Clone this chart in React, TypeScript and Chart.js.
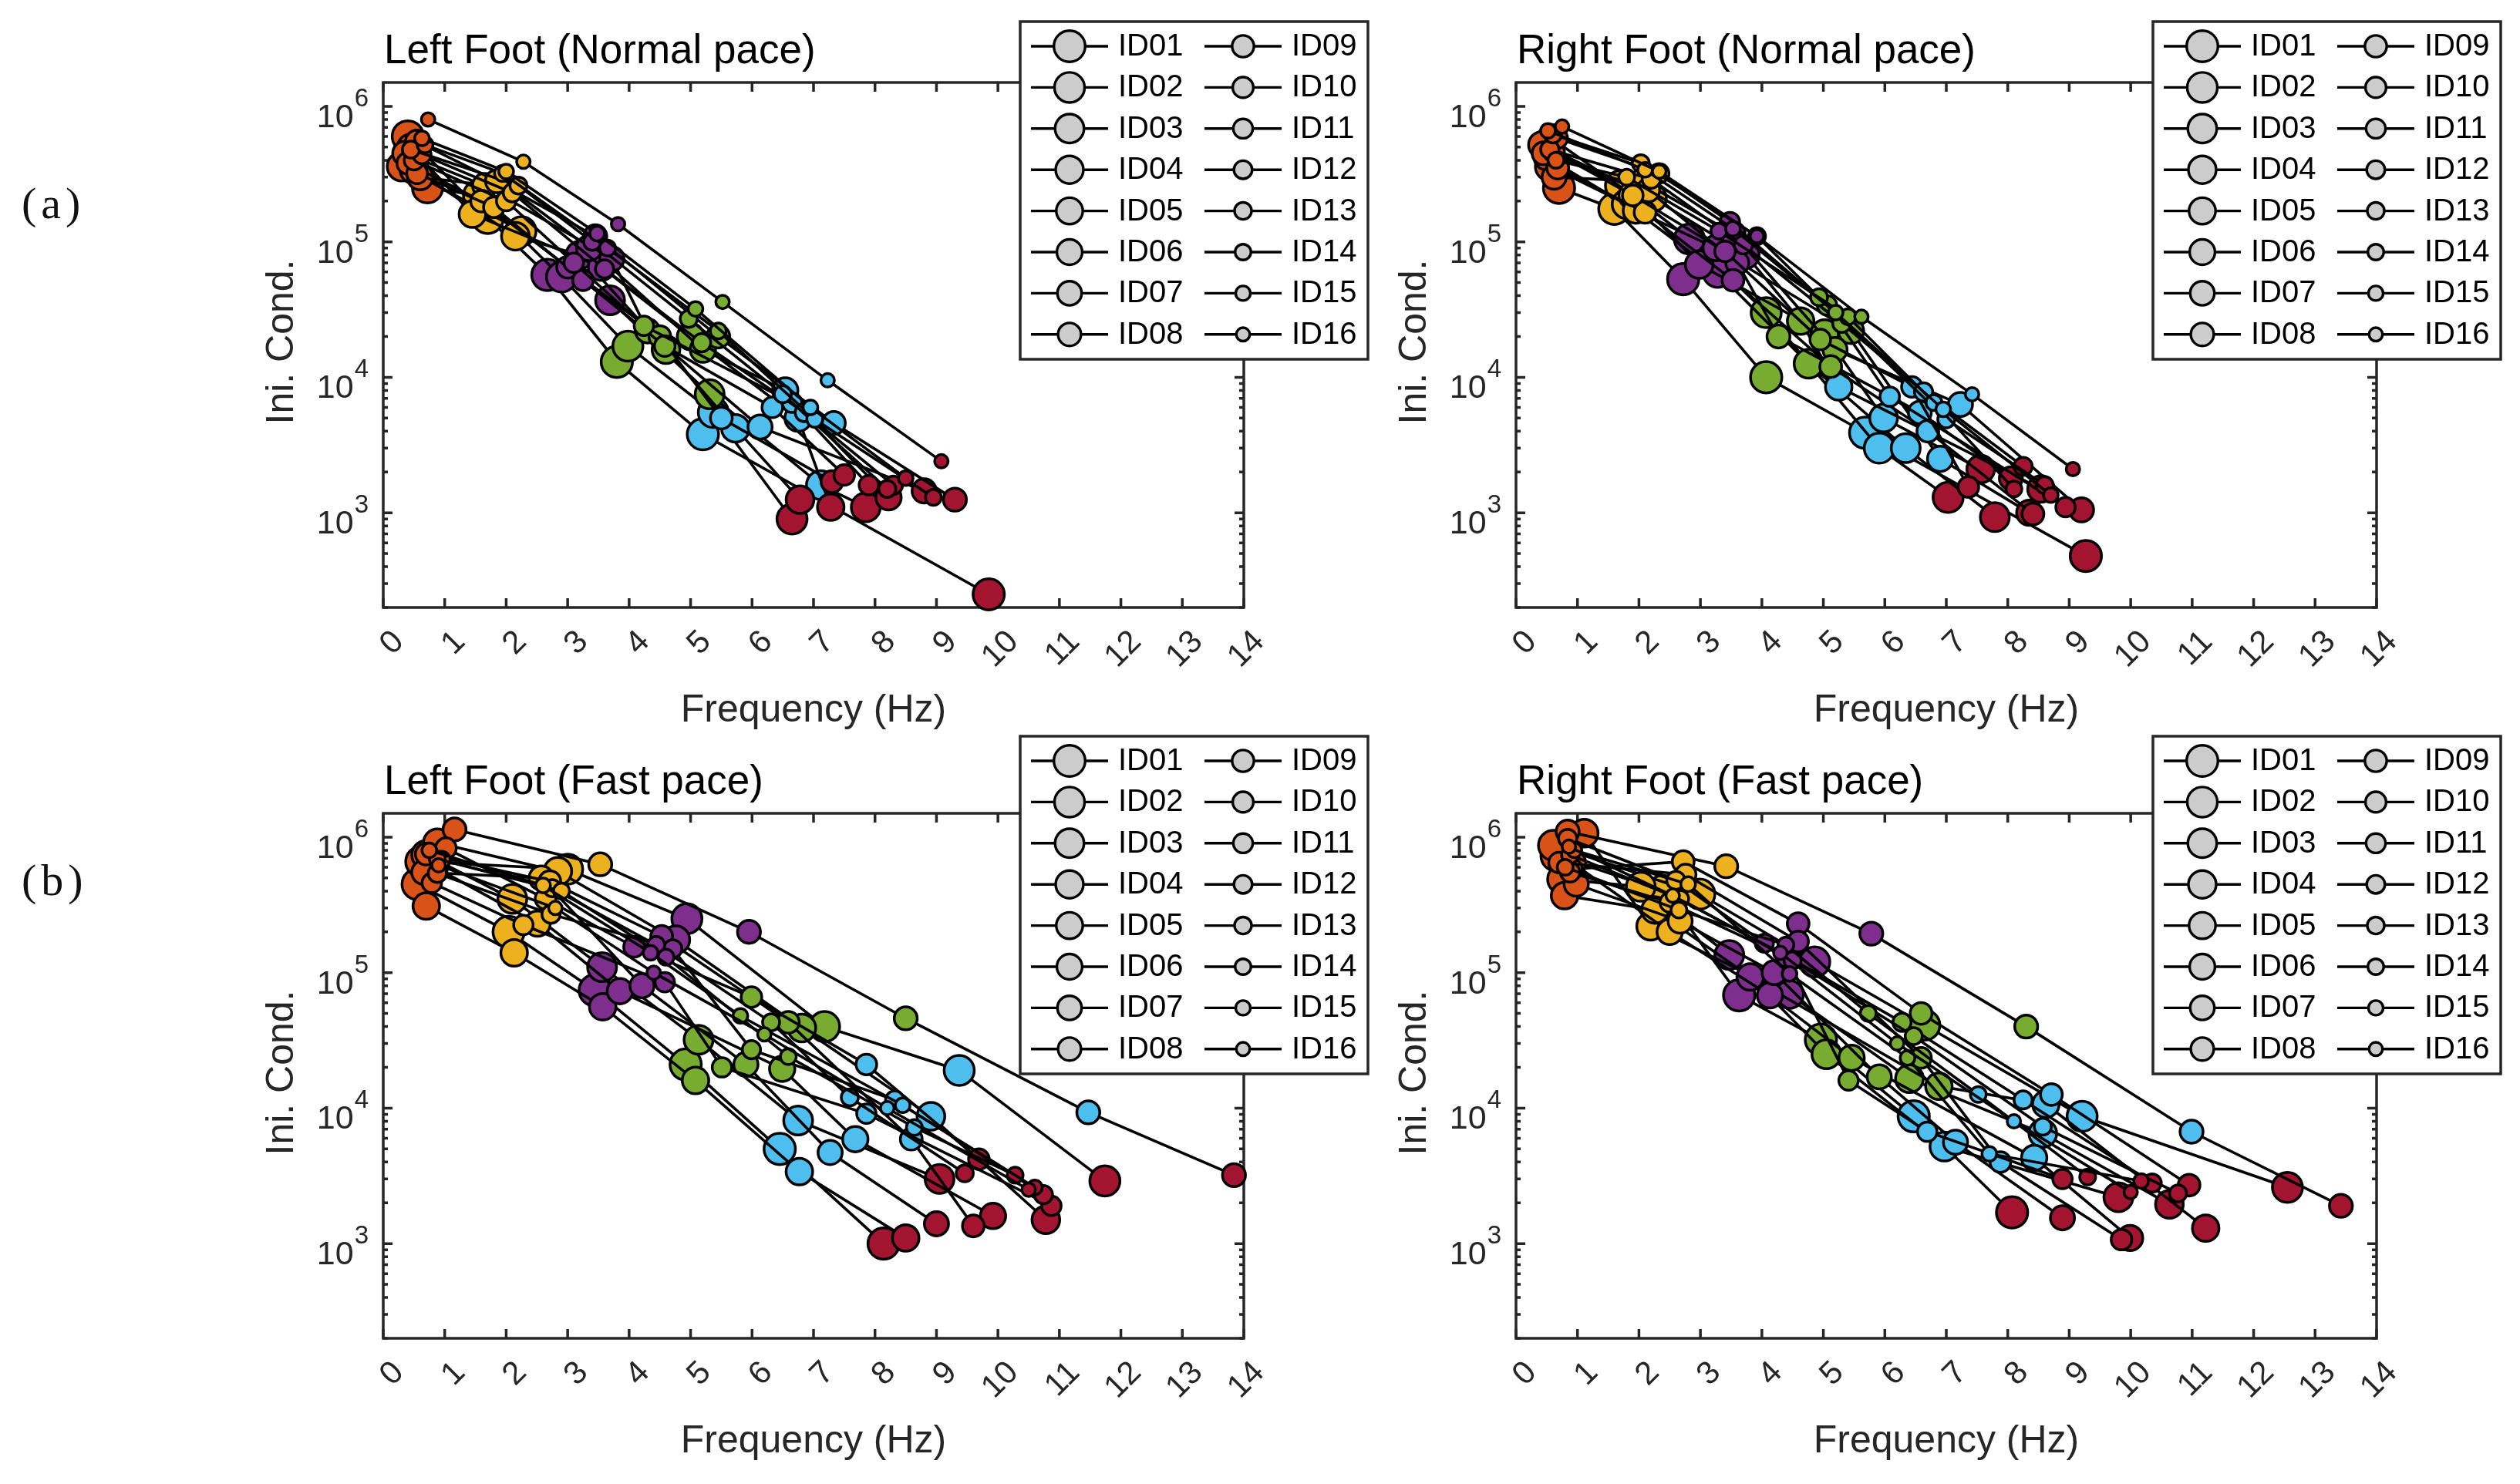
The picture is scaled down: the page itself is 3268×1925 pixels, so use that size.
import { useEffect, useRef } from 'react';
import { Chart, registerables } from 'chart.js';

Chart.register(...registerables);

// ---- data ----
const ids = ['ID01', 'ID02', 'ID03', 'ID04', 'ID05', 'ID06', 'ID07', 'ID08',
  'ID09', 'ID10', 'ID11', 'ID12', 'ID13', 'ID14', 'ID15', 'ID16'];

// colour of the 1st..6th point of every subject
const modeColors = ['#D95319', '#EDB120', '#7E2F8E', '#77AC30', '#4DBEEE', '#A2142F'];

const freqTicks = [0, 1, 2, 3, 4, 5, 6, 7, 8, 9, 10, 11, 12, 13, 14];
const decadeTicks = [1e3, 1e4, 1e5, 1e6];
const minorTicks = [
  200, 300, 400, 500, 600, 700, 800, 900,
  2e3, 3e3, 4e3, 5e3, 6e3, 7e3, 8e3, 9e3,
  2e4, 3e4, 4e4, 5e4, 6e4, 7e4, 8e4, 9e4,
  2e5, 3e5, 4e5, 5e5, 6e5, 7e5, 8e5, 9e5,
];

// Left foot, normal pace
const leftNormalHz = [
  [0.40, 1.70, 2.67, 3.80, 5.20, 9.85],
  [0.72, 1.55, 2.90, 3.98, 5.37, 6.65],
  [0.30, 2.25, 3.69, 5.31, 7.12, 7.85],
  [0.50, 2.15, 3.20, 4.60, 5.73, 6.78],
  [0.45, 1.45, 3.55, 5.00, 6.75, 7.28],
  [0.60, 2.05, 3.35, 5.20, 6.54, 8.22],
  [0.35, 1.65, 3.72, 4.30, 6.13, 8.80],
  [0.55, 1.85, 3.45, 5.45, 7.33, 9.30],
  [0.40, 1.60, 3.00, 4.50, 5.50, 7.30],
  [0.55, 1.80, 3.25, 4.58, 6.33, 7.50],
  [0.50, 2.00, 3.10, 4.24, 6.65, 7.90],
  [0.63, 2.10, 3.60, 5.18, 6.85, 8.30],
  [0.45, 2.20, 3.40, 4.97, 6.50, 8.20],
  [0.68, 1.94, 3.65, 5.45, 7.02, 8.95],
  [0.63, 2.00, 3.48, 5.08, 6.95, 8.50],
  [0.73, 2.28, 3.82, 5.52, 7.23, 9.08],
];
const leftNormalIC = [
  [6.0e5, 1.5e5, 5.7e4, 1.3e4, 3.8e3, 250],
  [2.5e5, 2.2e5, 5.5e4, 1.7e4, 5.5e3, 900],
  [3.6e5, 1.2e5, 3.7e4, 7.5e3, 1.6e3, 1.1e3],
  [3.4e5, 1.1e5, 8.0e4, 1.6e4, 4.2e3, 1.25e3],
  [5.0e5, 1.6e5, 6.5e4, 2.0e4, 5.0e3, 1.1e3],
  [3.0e5, 2.5e5, 9.0e4, 1.6e4, 8.0e3, 1.3e3],
  [4.5e5, 2.6e5, 7.5e4, 2.2e4, 4.3e3, 1.45e3],
  [5.5e5, 2.8e5, 1.1e5, 2.0e4, 4.6e3, 1.25e3],
  [3.8e5, 2.0e5, 6.5e4, 2.0e4, 5.0e3, 1.7e3],
  [3.2e5, 1.8e5, 5.2e4, 1.7e4, 6.0e3, 1.9e3],
  [4.0e5, 2.0e5, 7.0e4, 2.4e4, 6.5e3, 1.6e3],
  [4.4e5, 2.3e5, 6.3e4, 1.8e4, 5.5e3, 1.6e3],
  [4.8e5, 2.6e5, 1.0e5, 2.7e4, 7.5e3, 1.5e3],
  [5.2e5, 3.2e5, 9.0e4, 2.2e4, 4.9e3, 1.3e3],
  [5.8e5, 3.3e5, 1.15e5, 3.2e4, 6.0e3, 1.8e3],
  [8.0e5, 3.9e5, 1.35e5, 3.6e4, 9.5e3, 2.4e3],
];

// Right foot, normal pace
const rightNormalHz = [
  [0.70, 1.60, 2.72, 4.07, 5.68, 9.27],
  [0.48, 1.70, 2.82, 4.07, 5.91, 7.03],
  [0.55, 1.80, 3.28, 4.76, 6.34, 7.79],
  [0.58, 1.90, 2.98, 5.02, 5.98, 7.56],
  [0.42, 2.23, 3.74, 4.63, 5.25, 8.54],
  [0.50, 1.95, 3.25, 5.45, 6.90, 8.35],
  [0.62, 2.05, 3.53, 5.19, 7.23, 9.20],
  [0.45, 2.15, 3.60, 4.27, 6.57, 8.05],
  [0.68, 2.10, 3.53, 5.12, 6.70, 8.41],
  [0.62, 1.90, 3.40, 4.95, 6.44, 7.36],
  [0.68, 2.33, 3.48, 5.06, 6.08, 8.94],
  [0.55, 2.20, 3.70, 5.30, 6.63, 8.25],
  [0.60, 2.03, 3.92, 4.93, 7.00, 8.60],
  [0.65, 1.80, 3.30, 5.40, 6.80, 8.10],
  [0.52, 2.10, 3.53, 5.20, 6.95, 8.70],
  [0.75, 2.33, 3.92, 5.62, 7.42, 9.06],
];
const rightNormalIC = [
  [2.5e5, 1.75e5, 5.3e4, 1.0e4, 3.9e3, 480],
  [5.0e5, 2.6e5, 1.05e5, 3.0e4, 3.0e3, 1.3e3],
  [3.6e5, 1.9e5, 5.9e4, 1.26e4, 3.0e3, 930],
  [5.8e5, 2.2e5, 6.8e4, 2.1e4, 5.0e3, 2.1e3],
  [5.2e5, 2.1e5, 8.0e4, 2.6e4, 8.5e3, 1.5e3],
  [4.2e5, 1.7e5, 9.0e4, 2.2e4, 2.5e3, 1.0e3],
  [3.0e5, 2.8e5, 1.15e5, 1.6e4, 6.3e3, 1.05e3],
  [4.5e5, 2.4e5, 7.0e4, 2.0e4, 5.5e3, 1.8e3],
  [3.5e5, 1.65e5, 5.2e4, 1.2e4, 4.0e3, 980],
  [4.6e5, 2.2e5, 8.5e4, 1.9e4, 8.5e3, 1.55e3],
  [5.8e5, 3.2e5, 1.4e5, 3.4e4, 7.2e3, 1.1e3],
  [4.8e5, 2.9e5, 9.5e4, 2.5e4, 7.8e3, 2.2e3],
  [6.2e5, 3.8e5, 1.1e5, 3.9e4, 4.9e3, 1.6e3],
  [4.0e5, 3.0e5, 1.2e5, 2.8e4, 6.5e3, 1.5e3],
  [6.6e5, 3.4e5, 1.25e5, 3.0e4, 5.8e3, 1.35e3],
  [7.1e5, 3.3e5, 1.1e5, 2.8e4, 7.5e3, 2.1e3],
];

// Left foot, fast pace
const leftFastHz = [
  [0.56, 2.04, 3.44, 4.92, 6.45, 8.14],
  [0.61, 3.00, 4.94, 7.18, 9.37, 11.74],
  [0.70, 2.10, 3.56, 5.13, 6.75, 9.05],
  [0.88, 2.84, 4.76, 6.81, 8.91, 10.78],
  [0.70, 2.13, 3.57, 5.08, 6.77, 8.50],
  [0.84, 2.51, 3.85, 6.49, 7.68, 9.92],
  [0.66, 2.57, 4.21, 5.90, 7.27, 9.00],
  [1.16, 3.53, 5.95, 8.50, 11.47, 13.84],
  [0.70, 2.71, 4.53, 6.59, 8.59, 9.60],
  [1.02, 2.64, 4.08, 5.99, 7.86, 9.69],
  [0.79, 2.28, 4.58, 5.51, 7.86, 10.87],
  [0.88, 2.73, 4.71, 5.99, 8.32, 10.74],
  [0.95, 2.75, 4.44, 6.31, 7.59, 9.46],
  [0.88, 2.90, 4.60, 6.59, 8.64, 10.28],
  [0.75, 2.60, 4.35, 5.81, 8.45, 10.60],
  [0.90, 2.80, 4.40, 6.20, 8.20, 10.50],
];
const leftFastIC = [
  [4.5e5, 2.0e5, 7.4e4, 2.1e4, 5.0e3, 1.0e3],
  [6.6e5, 5.8e5, 2.5e5, 4.0e4, 1.9e4, 2.9e3],
  [7.4e5, 3.5e5, 1.1e5, 3.2e4, 8.1e3, 3.0e3],
  [9.1e5, 5.6e5, 1.75e5, 3.9e4, 8.7e3, 1.5e3],
  [3.1e5, 1.4e5, 5.6e4, 1.6e4, 3.4e3, 1.1e3],
  [6.0e5, 2.3e5, 7.3e4, 1.95e4, 5.9e3, 1.6e3],
  [5.5e5, 5.0e5, 8.0e4, 2.1e4, 4.7e3, 1.4e3],
  [1.14e6, 6.3e5, 2.0e5, 4.6e4, 9.3e3, 3.2e3],
  [7.5e5, 4.7e5, 1.85e5, 4.3e4, 5.9e3, 1.35e3],
  [8.3e5, 3.5e5, 1.55e5, 6.6e4, 2.1e4, 4.2e3],
  [4.6e5, 2.25e5, 8.5e4, 2.0e4, 9.1e3, 1.9e3],
  [5.4e5, 2.7e5, 1.5e5, 2.7e4, 1.15e4, 2.3e3],
  [6.8e5, 4.2e5, 1.6e5, 4.3e4, 1.2e4, 3.3e3],
  [6.9e5, 4.0e5, 1.3e5, 2.4e4, 7.2e3, 3.2e3],
  [8.0e5, 4.4e5, 1.4e5, 4.8e4, 1.05e4, 2.6e3],
  [6.2e5, 3.0e5, 1.0e5, 3.5e4, 1.0e4, 2.5e3],
];

// Right foot, fast pace
const rightFastHz = [
  [0.66, 2.39, 3.63, 4.96, 6.47, 8.07],
  [0.61, 2.99, 4.86, 6.65, 9.21, 12.55],
  [0.75, 2.03, 3.47, 5.05, 6.97, 9.80],
  [1.11, 2.19, 4.45, 6.40, 8.57, 10.63],
  [0.79, 2.26, 3.81, 6.88, 8.62, 11.22],
  [0.93, 2.50, 4.13, 5.46, 8.43, 9.99],
  [0.98, 2.67, 4.20, 5.91, 7.15, 8.89],
  [0.84, 3.42, 5.78, 8.30, 10.99, 13.42],
  [0.90, 2.72, 4.59, 6.59, 8.71, 10.95],
  [0.70, 2.76, 4.59, 6.59, 7.88, 9.85],
  [0.88, 2.50, 4.40, 5.41, 6.69, 8.89],
  [0.84, 2.60, 4.04, 6.28, 8.25, 10.35],
  [0.88, 2.67, 4.50, 6.47, 8.57, 10.77],
  [0.80, 2.65, 4.39, 5.73, 7.52, 9.30],
  [0.95, 2.80, 4.45, 6.37, 7.70, 10.17],
  [0.86, 2.55, 4.30, 6.20, 8.10, 10.00],
];
const rightFastIC = [
  [7.3e5, 4.0e5, 6.8e4, 3.2e4, 8.7e3, 1.7e3],
  [8.7e5, 3.8e5, 1.2e5, 4.1e4, 8.7e3, 2.6e3],
  [4.9e5, 4.3e5, 1.35e5, 2.5e4, 5.2e3, 2.2e3],
  [1.07e6, 2.2e5, 6.9e4, 1.65e4, 6.5e3, 1.95e3],
  [3.7e5, 2.9e5, 9.3e4, 1.45e4, 1.07e4, 1.3e3],
  [6.4e5, 2.0e5, 6.8e4, 2.35e4, 4.3e3, 1.1e3],
  [4.5e5, 2.4e5, 1.0e5, 1.7e4, 5.6e3, 1.55e3],
  [1.1e6, 6.1e5, 1.94e5, 4.0e4, 6.7e3, 1.9e3],
  [5.8e5, 6.6e5, 2.3e5, 5.0e4, 1.26e4, 2.7e3],
  [6.5e5, 5.3e5, 1.7e5, 2.35e4, 4.0e3, 1.07e3],
  [5.5e5, 3.3e5, 1.3e5, 1.6e4, 6.7e3, 3.0e3],
  [9.8e5, 4.8e5, 1.65e5, 4.3e4, 1.15e4, 2.8e3],
  [7.4e5, 3.5e5, 1.23e5, 3.4e4, 7.3e3, 2.35e3],
  [6.0e5, 2.9e5, 1.6e5, 5.0e4, 1.26e4, 3.1e3],
  [8.0e5, 4.5e5, 9.8e4, 2.35e4, 4.6e3, 2.9e3],
  [8.5e5, 3.7e5, 1.4e5, 3.0e4, 8.0e3, 2.4e3],
];

// ---- look ----
const FONT = '"Liberation Sans", Arial, Helvetica, sans-serif';
const AXIS = '#262626';
const PLOT_W = 1116;
const PLOT_H = 681;
const PAD_L = 200;
const PAD_R = 180;
const PAD_T = 107;
const ROW_H = 948;
const markerRadius = (i: number) => 20.3 - 0.77 * i;

const panels = [
  { title: 'Left Foot (Normal pace)', hz: leftNormalHz, ic: leftNormalIC, left: 497, top: 0, legendTop: 28 },
  { title: 'Right Foot (Normal pace)', hz: rightNormalHz, ic: rightNormalIC, left: 1966, top: 0, legendTop: 28 },
  { title: 'Left Foot (Fast pace)', hz: leftFastHz, ic: leftFastIC, left: 497, top: ROW_H, legendTop: 7 },
  { title: 'Right Foot (Fast pace)', hz: rightFastHz, ic: rightFastIC, left: 1966, top: ROW_H, legendTop: 7 },
];

const matlabAxes = {
  id: 'matlabAxes',
  beforeDatasetsDraw(chart: any, _args: any, opts: any) {
    const { ctx, chartArea: a, scales } = chart;
    const x = scales.x;
    const y = scales.y;
    ctx.save();
    ctx.strokeStyle = AXIS;
    ctx.lineWidth = 3.5;
    ctx.beginPath();
    for (const f of freqTicks) {
      const px = x.getPixelForValue(f);
      ctx.moveTo(px, a.bottom);
      ctx.lineTo(px, a.bottom - 12);
      ctx.moveTo(px, a.top);
      ctx.lineTo(px, a.top + 12);
    }
    for (const v of decadeTicks) {
      const py = y.getPixelForValue(v);
      ctx.moveTo(a.left, py);
      ctx.lineTo(a.left + 12, py);
      ctx.moveTo(a.right, py);
      ctx.lineTo(a.right - 12, py);
    }
    for (const v of minorTicks) {
      const py = y.getPixelForValue(v);
      ctx.moveTo(a.left, py);
      ctx.lineTo(a.left + 6, py);
      ctx.moveTo(a.right, py);
      ctx.lineTo(a.right - 6, py);
    }
    ctx.stroke();
    ctx.strokeRect(a.left, a.top, a.right - a.left, a.bottom - a.top);

    // x tick labels, rotated
    ctx.fillStyle = AXIS;
    ctx.font = `42px ${FONT}`;
    ctx.textAlign = 'right';
    ctx.textBaseline = 'middle';
    for (const f of freqTicks) {
      ctx.save();
      ctx.translate(x.getPixelForValue(f) + 20, a.bottom + 38);
      ctx.rotate(-Math.PI / 4);
      ctx.fillText(String(f), 0, 0);
      ctx.restore();
    }

    // y tick labels 10^n
    ctx.textAlign = 'left';
    ctx.textBaseline = 'alphabetic';
    for (const v of decadeTicks) {
      const py = y.getPixelForValue(v);
      const exp = String(Math.round(Math.log10(v)));
      ctx.font = `33px ${FONT}`;
      const ew = ctx.measureText(exp).width;
      ctx.font = `43px ${FONT}`;
      const bw = ctx.measureText('10').width;
      const x0 = a.left - 20 - ew - bw;
      ctx.fillText('10', x0, py + 27);
      ctx.font = `33px ${FONT}`;
      ctx.fillText(exp, x0 + bw + 1, py);
    }

    // axis labels
    ctx.fillStyle = '#262626';
    ctx.font = `50px ${FONT}`;
    ctx.textAlign = 'center';
    ctx.fillText('Frequency (Hz)', (a.left + a.right) / 2, a.bottom + 148);
    ctx.save();
    ctx.translate(a.left - 131, (a.top + a.bottom) / 2 - 4);
    ctx.rotate(-Math.PI / 2);
    ctx.textBaseline = 'middle';
    ctx.font = `50px ${FONT}`;
    ctx.fillText('Ini. Cond.', 0, 0);
    ctx.restore();

    // title
    ctx.fillStyle = '#000';
    ctx.font = `53px ${FONT}`;
    ctx.textAlign = 'left';
    ctx.textBaseline = 'alphabetic';
    ctx.fillText(opts.title, a.left + 1, a.top - 25);
    ctx.restore();
  },
  afterDatasetsDraw(chart: any, _args: any, opts: any) {
    const { ctx, chartArea: a } = chart;
    const top = opts.legendTop;
    const left = a.right - 290;
    const right = a.right + 161;
    ctx.save();
    ctx.fillStyle = '#fff';
    ctx.fillRect(left, top, right - left, 438);
    ctx.strokeStyle = AXIS;
    ctx.lineWidth = 3.5;
    ctx.strokeRect(left, top, right - left, 438);
    ctx.font = `40px ${FONT}`;
    ctx.textBaseline = 'middle';
    ctx.textAlign = 'left';
    ids.forEach((name, i) => {
      const col = i < 8 ? 0 : 1;
      const row = i % 8;
      const cy = top + 32 + row * 53.4;
      const mx = col === 0 ? a.right - 226 : a.right - 1;
      ctx.strokeStyle = '#000';
      ctx.lineWidth = 3.4;
      ctx.beginPath();
      ctx.moveTo(mx - 50, cy);
      ctx.lineTo(mx + 50, cy);
      ctx.stroke();
      ctx.beginPath();
      ctx.arc(mx, cy, markerRadius(i), 0, Math.PI * 2);
      ctx.fillStyle = '#cccccc';
      ctx.fill();
      ctx.stroke();
      ctx.fillStyle = '#000';
      ctx.fillText(name, mx + 63, cy + 1);
    });
    ctx.restore();
  },
};

type Panel = typeof panels[number];

function FootPanel({ panel }: { panel: Panel }) {
  const ref = useRef<HTMLCanvasElement>(null);
  const width = PAD_L + PLOT_W + PAD_R;
  const padTop = PAD_T;
  const padBottom = ROW_H - PAD_T - PLOT_H;

  useEffect(() => {
    if (!ref.current) return;
    const chart = new Chart(ref.current, {
      type: 'scatter',
      data: {
        datasets: ids.map((name, i) => ({
          label: name,
          data: panel.hz[i].map((f, k) => ({ x: f, y: panel.ic[i][k] })),
          showLine: true,
          borderColor: '#000',
          borderWidth: 3.6,
          pointBackgroundColor: modeColors,
          pointBorderColor: '#000',
          pointBorderWidth: 3.5,
          pointRadius: markerRadius(i),
          pointHoverRadius: markerRadius(i),
          clip: false,
          order: ids.length - i,
        })),
      },
      options: {
        animation: false,
        responsive: false,
        devicePixelRatio: 1,
        events: [],
        layout: {
          autoPadding: false,
          padding: { left: PAD_L, right: PAD_R, top: padTop, bottom: padBottom },
        },
        scales: {
          x: {
            type: 'linear',
            min: 0,
            max: 14,
            grid: { display: false, drawTicks: false },
            border: { display: false },
            ticks: { display: false },
          },
          y: {
            type: 'logarithmic',
            min: 200,
            max: 1.5e6,
            grid: { display: false, drawTicks: false },
            border: { display: false },
            ticks: { display: false },
          },
        },
        plugins: {
          legend: { display: false },
          tooltip: { enabled: false },
          matlabAxes: { title: panel.title, legendTop: panel.legendTop },
        } as any,
      },
      plugins: [matlabAxes],
    });
    return () => chart.destroy();
  }, [panel]);

  return (
    <canvas
      ref={ref}
      width={width}
      height={ROW_H}
      style={{ position: 'absolute', left: panel.left - PAD_L, top: panel.top, width, height: ROW_H }}
    />
  );
}

const rowLabelStyle = {
  position: 'absolute' as const,
  left: 28,
  fontFamily: '"Liberation Serif", "Times New Roman", serif',
  fontSize: 58,
  lineHeight: '64px',
  letterSpacing: 6,
  color: '#111',
};

export default function App() {
  return (
    <div style={{ position: 'absolute', left: 0, top: 0, width: 3260, height: 1920, background: '#fff', overflow: 'hidden' }}>
      <div style={{ ...rowLabelStyle, top: 232 }}>(a)</div>
      <div style={{ ...rowLabelStyle, top: 1110 }}>(b)</div>
      {panels.map((p) => (
        <FootPanel key={p.title} panel={p} />
      ))}
    </div>
  );
}
